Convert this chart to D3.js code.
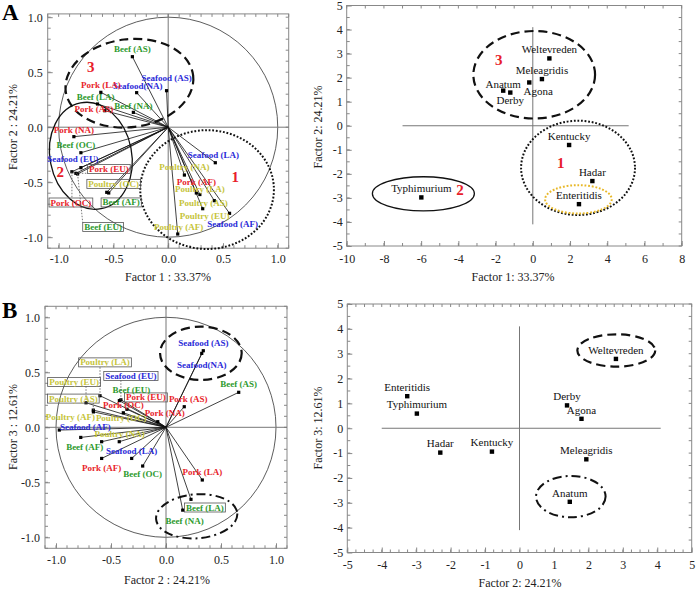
<!DOCTYPE html>
<html lang="en">
<head>
<meta charset="utf-8">
<title>Factor analysis: sources and serotypes</title>
<script src="https://d3js.org/d3.v7.min.js"></script>
<style>
  body { margin: 0; background: #fff; }
  svg text { font-family: "Liberation Serif", "Times New Roman", serif; }
  .frame { fill: none; stroke: #888; stroke-width: 1; }
  .mtick, .axis line { stroke: #888; stroke-width: 1; }
  .axis text { font-size: 12px; fill: #222; }
  .cross { stroke: #777; stroke-width: 1; }
  .circ { fill: none; stroke: #333; stroke-width: 0.8; }
  .vec { stroke: #111; stroke-width: 0.8; }
  .lbl { font-size: 9px; font-weight: bold; }
  .sero { font-size: 11px; fill: #111; }
  .clus { fill: #e8202a; font-size: 15px; font-weight: bold; }
  .letter { font-size: 23px; font-weight: bold; }
  .title { font-size: 12px; fill: #222; }
  .box { fill: none; stroke: #555; stroke-width: 0.8; }
  .leader { stroke: #555; stroke-width: 0.8; stroke-dasharray: 1.5,1.5; }
</style>
</head>
<body>
<svg width="696" height="590"></svg>
<script>
// ---- A (left): loadings of the sources on factor 1 / factor 2
var varsA = ["Beef (AS)", "Seafood (AS)", "Seafood(NA)", "Pork (LA)", "Beef (LA)", "Pork (AS)", "Beef (NA)",
  "Pork (NA)", "Beef (OC)", "Seafood (EU)", "Pork (EU)", "Pork (OC)", "Beef (EU)", "Poultry (OC)", "Beef (AF)",
  "Seafood (LA)", "Poultry (NA)", "Pork (AF)", "Poultry (LA)", "Poultry (AS)", "Poultry (EU)", "Seafood (AF)", "Poultry (AF)"];
var loadA1 = [-0.327, -0.015, -0.288, -0.615, -0.645, -0.579, -0.318, -0.861, -0.797, -0.797, -0.843, -0.879, -0.827, -0.561, -0.543,
  0.43, 0.148, 0.257, 0.289, 0.421, 0.315, 0.56, 0.087];
var loadA2 = [0.641, 0.332, 0.314, 0.317, 0.211, 0.15, 0.135, -0.086, -0.232, -0.368, -0.419, -0.405, -0.425, -0.592, -0.598,
  -0.323, -0.435, -0.598, -0.612, -0.668, -0.741, -0.783, -0.971];
var boxedA = ["Pork (EU)", "Poultry (OC)", "Pork (OC)", "Beef (AF)", "Beef (EU)"];

// ---- B (left): loadings on factor 2 / factor 3
var varsB = ["Seafood (AS)", "Seafood(NA)", "Beef (AS)", "Pork (AS)", "Pork (NA)", "Pork (EU)", "Pork (OC)", "Beef (EU)",
  "Seafood (EU)", "Poultry (LA)", "Poultry (EU)", "Poultry (AS)", "Poultry (AF)", "Poultry (OC)", "Poultry (NA)",
  "Seafood (AF)", "Beef (AF)", "Seafood (LA)", "Pork (AF)", "Beef (OC)", "Pork (LA)", "Beef (LA)", "Beef (NA)"];
var loadB2 = [0.339, 0.325, 0.661, 0.166, -0.075, -0.355, -0.388, -0.424, -0.41, -0.6, -0.727, -0.661, -0.66, -0.425, -0.585,
  -0.97, -0.775, -0.312, -0.585, -0.212, 0.33, 0.227, 0.152];
var loadB3 = [0.696, 0.672, 0.318, 0.187, 0.051, 0.164, 0.132, 0.242, 0.25, 0.287, 0.223, 0.156, 0.14, -0.131, -0.131,
  -0.025, -0.092, -0.283, -0.283, -0.352, -0.479, -0.655, -0.753];
var boxedB = ["Pork (EU)", "Seafood (EU)", "Poultry (LA)", "Poultry (EU)", "Poultry (AS)", "Beef (LA)"];

// ---- serotype scores (right panels)
var serotypes = ["Weltevreden", "Meleagridis", "Agona", "Anatum", "Derby", "Kentucky", "Hadar", "Enteritidis", "Typhimurium"];
var score1 = [0.89, 0.49, -0.19, -1.59, -1.21, 1.95, 3.2, 2.48, -5.99];
var score2 = [2.8, 1.94, 1.8, 1.46, 1.38, -0.8, -2.3, -3.26, -2.98];
var score3 = [2.79, -1.25, 0.38, -2.96, 0.92, -0.94, -0.98, 1.29, 0.59];

// tick labels
var ticksUnit = [-1, -0.5, 0, 0.5, 1];
var ticksA1 = [-10, -8, -6, -4, -2, 0, 2, 4, 6, 8];
var ticksFive = [-5, -4, -3, -2, -1, 0, 1, 2, 3, 4, 5];

// cluster outlines (factor units) and their numbers
var ellA = [
  {cx: -0.354, cy: 0.40, rx: 0.586, ry: 0.40, rot: -7, line: "dash"},
  {cx: -0.706, cy: -0.26, rx: 0.373, ry: 0.49, rot: -11, line: "solid"},
  {cx: 0.355, cy: -0.567, rx: 0.61, ry: 0.54, rot: 0, line: "dot"}];
var clusA = [{t: "3", x: -0.706, y: 0.55}, {t: "2", x: -0.985, y: -0.405}, {t: "1", x: 0.612, y: -0.45}];
var ellAR = [
  {cx: 0.075, cy: 2.12, rx: 3.27, ry: 1.82, rot: 0, line: "dash"},
  {cx: 2.43, cy: -1.75, rx: 3.06, ry: 1.96, rot: 0, line: "dot"},
  {cx: -5.88, cy: -2.83, rx: 2.74, ry: 0.71, rot: 0, line: "solid"},
  {cx: 2.45, cy: -3.06, rx: 1.79, ry: 0.59, rot: 0, line: "yellow"}];
var clusAR = [{t: "3", x: -1.83, y: 2.76}, {t: "1", x: 1.5, y: -1.54}, {t: "2", x: -3.91, y: -2.67}];
var ellB = [
  {cx: 0.317, cy: 0.673, rx: 0.371, ry: 0.242, rot: 0, line: "dash"},
  {cx: 0.279, cy: -0.809, rx: 0.37, ry: 0.2, rot: -4, line: "dashdot"}];
var ellBR = [
  {cx: 2.81, cy: 3.13, rx: 1.13, ry: 0.65, rot: 0, line: "dash"},
  {cx: 1.49, cy: -2.75, rx: 1.01, ry: 0.83, rot: 0, line: "dashdot"}];

// label placement (pixel offsets from the point)
var offA = {"Beef (AS)": [0, -8], "Seafood (AS)": [0, -13], "Seafood(NA)": [1, -7], "Pork (LA)": [0, -7], "Beef (LA)": [-2, -7],
  "Pork (AS)": [-11, -2], "Beef (NA)": [0, -7], "Pork (NA)": [0, -7], "Beef (OC)": [-5, -8], "Seafood (EU)": [-8, -9],
  "Pork (EU)": [33, -4.5], "Pork (OC)": [-1, 30.6], "Beef (EU)": [25.5, 53], "Poultry (OC)": [7, -8.6], "Beef (AF)": [12.5, 9.3],
  "Seafood (LA)": [-2, -8], "Poultry (NA)": [0, -8], "Pork (AF)": [0, -11], "Poultry (LA)": [0, -6], "Poultry (AS)": [-11, 2],
  "Poultry (EU)": [2, 7], "Seafood (AF)": [3, 11], "Poultry (AF)": [1, -7]};
var offB = {"Seafood (AS)": [0, -8], "Seafood(NA)": [0, 11], "Beef (AS)": [0, -8], "Pork (AS)": [4, -8], "Pork (NA)": [7, -9],
  "Pork (EU)": [19, -12], "Pork (OC)": [0, -8], "Beef (EU)": [12, -11], "Seafood (EU)": [10, -24], "Poultry (LA)": [5, -33.5],
  "Poultry (EU)": [-12, -21], "Poultry (AS)": [-20, -11.7], "Poultry (AF)": [-23, 5.4], "Poultry (OC)": [2, -24],
  "Poultry (NA)": [18, -8], "Seafood (AF)": [26, -3], "Beef (AF)": [4, 9], "Seafood (LA)": [0, -8], "Pork (AF)": [0, 9],
  "Beef (OC)": [0, 8], "Pork (LA)": [0, -8], "Beef (LA)": [14, 8], "Beef (NA)": [2, 11]};
var offAR = {"Agona": [9, 9], "Derby": [0, 8], "Anatum": [0, -6]};

var svg = d3.select("svg");

function colorOf(name) {
  if (name.indexOf("Beef") === 0) return "#2e9a2e";
  if (name.indexOf("Pork") === 0) return "#e8242a";
  if (name.indexOf("Seafood") === 0) return "#2a2ad8";
  return "#c6c43a";
}

var lineStyle = {
  dash: {stroke: "#111", w: 2.2, dash: "9,5"},
  dot: {stroke: "#111", w: 2, dash: "1.8,1.8"},
  solid: {stroke: "#111", w: 1.3, dash: null},
  yellow: {stroke: "#e8b828", w: 2, dash: "1.8,1.8"},
  dashdot: {stroke: "#111", w: 2, dash: "9,4,2,4"}
};

function frame(x, y, o) {
  var g = svg.append("g");
  var x0 = x.range()[0], x1 = x.range()[1], y0 = y.range()[0], y1 = y.range()[1];
  g.append("rect").attr("class", "frame")
    .attr("x", x0).attr("y", y1).attr("width", x1 - x0).attr("height", y0 - y1);

  // small inward ticks on all four edges
  var mx = d3.range(Math.ceil(x.domain()[0] / o.mx - 1e-6) * o.mx, x.domain()[1] + 1e-6, o.mx);
  var my = d3.range(Math.ceil(y.domain()[0] / o.my - 1e-6) * o.my, y.domain()[1] + 1e-6, o.my);
  [[y0, -3], [y1, 3]].forEach(function(s) {
    g.selectAll(null).data(mx).join("line").attr("class", "mtick")
      .attr("x1", d => x(d)).attr("x2", d => x(d)).attr("y1", s[0]).attr("y2", s[0] + s[1]);
  });
  [[x0, 3], [x1, -3]].forEach(function(s) {
    g.selectAll(null).data(my).join("line").attr("class", "mtick")
      .attr("y1", d => y(d)).attr("y2", d => y(d)).attr("x1", s[0]).attr("x2", s[0] + s[1]);
  });

  g.append("g").attr("class", "axis").attr("transform", "translate(0," + y0 + ")")
    .call(d3.axisBottom(x).tickValues(o.xt).tickSize(-5).tickPadding(o.padX).tickFormat(o.fmt));
  g.append("g").attr("class", "axis").attr("transform", "translate(" + x0 + ",0)")
    .call(d3.axisLeft(y).tickValues(o.yt).tickSize(-5).tickPadding(o.padY).tickFormat(o.fmt));
  g.selectAll(".domain").remove();

  g.append("text").attr("class", "title").attr("text-anchor", "middle")
    .attr("x", o.xTitle[0]).attr("y", o.xTitle[1]).text(o.xLabel);
  g.append("text").attr("class", "title").attr("text-anchor", "middle").attr("dy", "0.35em")
    .attr("transform", "translate(" + o.yTitle[0] + "," + o.yTitle[1] + ") rotate(-90)").text(o.yLabel);
  return g;
}

function ellipses(g, x, y, list) {
  list.forEach(function(e) {
    var st = lineStyle[e.line];
    var cx = x(e.cx), cy = y(e.cy);
    g.append("ellipse").attr("cx", cx).attr("cy", cy)
      .attr("rx", x(e.cx + e.rx) - cx).attr("ry", cy - y(e.cy + e.ry))
      .attr("transform", "rotate(" + e.rot + "," + cx + "," + cy + ")")
      .attr("fill", "none").attr("stroke", st.stroke).attr("stroke-width", st.w)
      .attr("stroke-dasharray", st.dash);
  });
}

function clusters(g, x, y, list) {
  g.selectAll(null).data(list).join("text").attr("class", "clus")
    .attr("text-anchor", "middle").attr("dy", "0.35em")
    .attr("x", d => x(d.x)).attr("y", d => y(d.y)).text(d => d.t);
}

function loadings(g, x, y, names, a, b) {
  var ox = x(0), oy = y(0);
  g.append("ellipse").attr("class", "circ").attr("cx", ox).attr("cy", oy)
    .attr("rx", x(1) - ox).attr("ry", oy - y(1));
  g.append("line").attr("class", "cross").attr("x1", x.range()[0]).attr("x2", x.range()[1]).attr("y1", oy).attr("y2", oy);
  g.append("line").attr("class", "cross").attr("x1", ox).attr("x2", ox).attr("y1", y.range()[0]).attr("y2", y.range()[1]);
  var pts = names.map((n, i) => ({name: n, px: x(a[i]), py: y(b[i])}));
  g.selectAll(null).data(pts).join("line").attr("class", "vec")
    .attr("x1", ox).attr("y1", oy).attr("x2", d => d.px).attr("y2", d => d.py);
  return pts;
}

function loadingMarks(g, pts, offs, boxed) {
  g.selectAll(null).data(pts).join("rect")
    .attr("x", d => d.px - 1.6).attr("y", d => d.py - 1.6).attr("width", 3.2).attr("height", 3.2).attr("fill", "#000");
  pts.forEach(function(d) {
    var off = offs[d.name] || [0, -8];
    var t = g.append("text").attr("class", "lbl").attr("text-anchor", "middle").attr("dy", "0.35em")
      .attr("x", d.px + off[0]).attr("y", d.py + off[1]).attr("fill", colorOf(d.name)).text(d.name);
    if (boxed.indexOf(d.name) >= 0) {
      var bb = t.node().getBBox();
      var bx = bb.x - 1.5, by = bb.y + 0.5, bw = bb.width + 3, bh = bb.height - 1;
      g.insert("rect", function() { return t.node(); }).attr("class", "box")
        .attr("x", bx).attr("y", by).attr("width", bw).attr("height", bh);
      var qx = Math.max(bx, Math.min(d.px, bx + bw)), qy = Math.max(by, Math.min(d.py, by + bh));
      if (Math.hypot(qx - d.px, qy - d.py) > 5) {
        g.append("line").attr("class", "leader").attr("x1", d.px).attr("y1", d.py).attr("x2", qx).attr("y2", qy);
      }
    }
  });
}

function scores(g, x, y, sx, sy, offs) {
  var pts = serotypes.map((n, i) => ({name: n, px: x(sx[i]), py: y(sy[i])}));
  g.selectAll(null).data(pts).join("rect")
    .attr("x", d => d.px - 2.2).attr("y", d => d.py - 2.2).attr("width", 4.4).attr("height", 4.4).attr("fill", "#000");
  g.selectAll(null).data(pts).join("text").attr("class", "sero")
    .attr("text-anchor", "middle").attr("dy", "0.35em")
    .attr("x", d => d.px + (offs[d.name] || [0, -9])[0])
    .attr("y", d => d.py + (offs[d.name] || [0, -9])[1])
    .text(d => d.name);
}

function cross(g, x, y, xr, yr) {
  g.append("line").attr("class", "cross").attr("x1", x(xr[0])).attr("x2", x(xr[1])).attr("y1", y(0)).attr("y2", y(0));
  g.append("line").attr("class", "cross").attr("x1", x(0)).attr("x2", x(0)).attr("y1", y(yr[0])).attr("y2", y(yr[1]));
}

var fmt1 = d => d.toFixed(1);
var fmt0 = d => String(d);

// ---------- A left
var xA = d3.scaleLinear().domain([-1.1, 1.1]).range([47.7, 288.7]);
var yA = d3.scaleLinear().domain([-1.1, 1.03]).range([248.2, 13.9]);
var gA = frame(xA, yA, {mx: 0.1, my: 0.1, xt: ticksUnit, yt: ticksUnit, fmt: fmt1, padX: 6, padY: 5,
  xLabel: "Factor 1 : 33.37%", yLabel: "Factor 2 : 24.21%", xTitle: [168, 281], yTitle: [13, 127]});
var ptsA = loadings(gA, xA, yA, varsA, loadA1, loadA2);
ellipses(gA, xA, yA, ellA);
loadingMarks(gA, ptsA, offA, boxedA);
clusters(gA, xA, yA, clusA);

// ---------- A right
var xAR = d3.scaleLinear().domain([-10, 8]).range([346.7, 681.7]);
var yAR = d3.scaleLinear().domain([-5, 5]).range([246, 5.5]);
var gAR = frame(xAR, yAR, {mx: 1, my: 0.5, xt: ticksA1, yt: ticksFive, fmt: fmt0, padX: 8, padY: 4,
  xLabel: "Factor 1: 33.37%", yLabel: "Factor 2: 24.21%", xTitle: [513, 281], yTitle: [318, 127]});
cross(gAR, xAR, yAR, [-7, 5.15], [-4.1, 4.1]);
ellipses(gAR, xAR, yAR, ellAR);
scores(gAR, xAR, yAR, score1, score2, offAR);
clusters(gAR, xAR, yAR, clusAR);

// ---------- B left
var xB = d3.scaleLinear().domain([-1.1, 1.1]).range([45, 287]);
var yB = d3.scaleLinear().domain([-1.1, 1.1]).range([548.3, 306.3]);
var gB = frame(xB, yB, {mx: 0.1, my: 0.1, xt: ticksUnit, yt: ticksUnit, fmt: fmt1, padX: 7, padY: 5,
  xLabel: "Factor 2 : 24.21%", yLabel: "Factor 3 : 12.61%", xTitle: [167, 584], yTitle: [13, 427]});
var ptsB = loadings(gB, xB, yB, varsB, loadB2, loadB3);
ellipses(gB, xB, yB, ellB);
loadingMarks(gB, ptsB, offB, boxedB);

// ---------- B right
var xBR = d3.scaleLinear().domain([-5, 5]).range([347.3, 691.7]);
var yBR = d3.scaleLinear().domain([-5, 5]).range([552.5, 304]);
var gBR = frame(xBR, yBR, {mx: 0.25, my: 0.5, xt: ticksFive, yt: ticksFive, fmt: fmt0, padX: 8, padY: 4,
  xLabel: "Factor 2: 24.21%", yLabel: "Factor 3: 12.61%", xTitle: [520, 586.5], yTitle: [318, 428]});
cross(gBR, xBR, yBR, [-4, 4.1], [-4.1, 4.1]);
ellipses(gBR, xBR, yBR, ellBR);
scores(gBR, xBR, yBR, score2, score3, {});

// panel letters
svg.append("text").attr("class", "letter").attr("x", 2).attr("y", 20).text("A");
svg.append("text").attr("class", "letter").attr("x", 2).attr("y", 318).text("B");
</script>
</body>
</html>
